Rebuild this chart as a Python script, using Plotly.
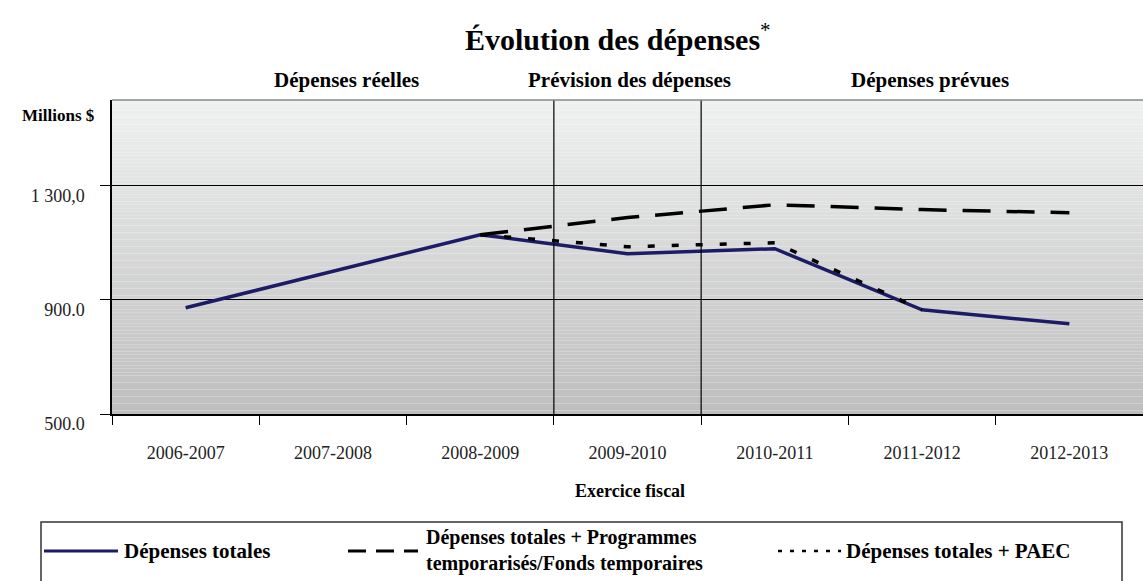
import plotly.graph_objects as go

# ---------------- data ----------------
years = ["2006-2007", "2007-2008", "2008-2009", "2009-2010", "2010-2011", "2011-2012", "2012-2013"]
depenses_totales = [872, 1000, 1128, 1061, 1079, 865, 816]
depenses_temporaires = [None, None, 1128, 1188, 1233, 1216, 1205]
depenses_paec = [None, None, 1128, 1086, 1100, 865, None]
y_tickvals = [500, 900, 1300]
y_ticktext = ["500.0", "900.0", "1 300,0"]
period_labels = ["Dépenses réelles", "Prévision des dépenses", "Dépenses prévues"]
legend_labels = ["Dépenses totales",
                 "Dépenses totales + Programmes<br>temporarisés/Fonds temporaires",
                 "Dépenses totales + PAEC"]

W, H = 1143, 581
L, T, R, B = 112, 100, 1143, 414
SERIF = "Liberation Serif, Times New Roman, serif"


def px(x):
    return (x - L) / (R - L)


def py(y):
    return (B - y) / (B - T)


fig = go.Figure()

# gradient background bands
n = 90
top_c = (239, 240, 240)
bot_c = (190, 190, 190)
shapes = []
for i in range(n):
    f = i / (n - 1)
    c = tuple(int(round(top_c[k] + (bot_c[k] - top_c[k]) * f)) for k in range(3))
    shapes.append(dict(type="rect", xref="paper", yref="paper", x0=0, x1=1,
                       y0=1 - (i + 1) / n, y1=1 - i / n,
                       fillcolor="rgb(%d,%d,%d)" % c, line=dict(width=0), layer="below"))

# period separators
for xv in [2.5, 3.5]:
    shapes.append(dict(type="line", xref="x", yref="paper", x0=xv, x1=xv, y0=0, y1=1,
                       line=dict(color="black", width=1.2)))
# top border
shapes.append(dict(type="line", xref="paper", yref="paper", x0=0, x1=1, y0=1, y1=1,
                   line=dict(color="#888", width=1.5)))

fig.add_trace(go.Scatter(x=years, y=depenses_totales, mode="lines", name=legend_labels[0],
                         line=dict(color="#1c1c66", width=3.5)))
fig.add_trace(go.Scatter(x=years, y=depenses_paec, mode="lines", name=legend_labels[2],
                         line=dict(color="black", width=3.5, dash="7px,17px")))
fig.add_trace(go.Scatter(x=years, y=depenses_temporaires, mode="lines", name=legend_labels[1],
                         line=dict(color="black", width=3.5, dash="28px,16px")))


def ann(text, x, y, size, xanchor="center", bold=True, align="center"):
    return dict(text=("<b>%s</b>" % text) if bold else text, x=px(x), y=py(y), xref="paper", yref="paper",
                xanchor=xanchor, yanchor="middle", align=align, showarrow=False,
                font=dict(family=SERIF, size=size, color="black"))


annotations = [
    dict(text="<b>Évolution des dépenses</b><sup>*</sup>", x=px(618), y=py(37), xref="paper", yref="paper",
         xanchor="center", yanchor="middle", showarrow=False, font=dict(family=SERIF, size=30, color="black")),
    ann("Millions $", 58, 115, 17),
    ann("Exercice fiscal", 630, 491, 18),
]
for lab, cx in zip(period_labels, [346, 629, 930]):
    annotations.append(ann(lab, cx, 80, 21))

# manual legend
shapes.append(dict(type="rect", xref="paper", yref="paper", x0=px(41), x1=px(1122),
                   y0=py(600), y1=py(522), line=dict(color="#333", width=1.5), fillcolor="white"))
shapes.append(dict(type="line", xref="paper", yref="paper", x0=px(44), x1=px(118), y0=py(551), y1=py(551),
                   line=dict(color="#1c1c66", width=3)))
shapes.append(dict(type="line", xref="paper", yref="paper", x0=px(348), x1=px(418), y0=py(551), y1=py(551),
                   line=dict(color="black", width=3, dash="18px,10px")))
shapes.append(dict(type="line", xref="paper", yref="paper", x0=px(778), x1=px(841), y0=py(551), y1=py(551),
                   line=dict(color="black", width=2.5, dash="4px,8px")))
annotations.append(ann(legend_labels[0], 122, 551, 21, xanchor="left"))
annotations.append(ann(legend_labels[1], 424, 550, 20, xanchor="left", align="left"))
annotations.append(ann(legend_labels[2], 844, 551, 21, xanchor="left"))

fig.update_layout(
    width=W, height=H,
    margin=dict(l=L, r=W - R, t=T, b=H - B),
    paper_bgcolor="white", plot_bgcolor="rgba(0,0,0,0)",
    showlegend=False,
    shapes=shapes, annotations=annotations,
    xaxis=dict(type="category", range=[-0.5, 6.5], tickson="boundaries", ticks="outside", ticklen=9,
               tickcolor="black", showline=True, linecolor="black", linewidth=1.5, showgrid=False,
               tickfont=dict(family=SERIF, size=18, color="#222"), ticklabelstandoff=22),
    yaxis=dict(range=[500, 1600], tickvals=y_tickvals, ticktext=y_ticktext, ticks="outside", ticklen=10,
               tickcolor="black", showline=True, linecolor="black", linewidth=1.5,
               showgrid=True, gridcolor="black", gridwidth=1.2, zeroline=False,
               tickfont=dict(family=SERIF, size=18, color="#222"), ticklabelshift=10,
               ticklabelstandoff=12),
)

fig.write_html("out.html")
